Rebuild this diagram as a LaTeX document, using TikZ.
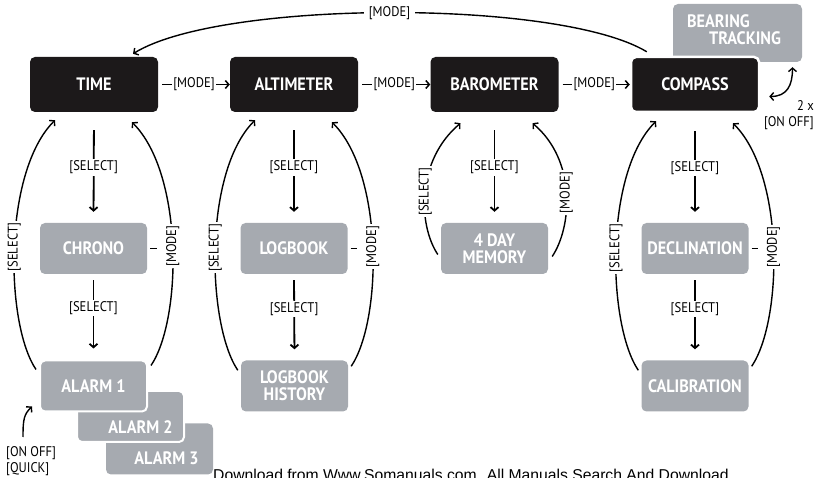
\documentclass[tikz,border=0pt]{standalone}
\usepackage{fontspec}
\setmainfont{PT Sans}[FakeStretch=0.9]
\newfontfamily\wmfont{Liberation Sans}
\usetikzlibrary{arrows.meta,calc}
\definecolor{boxblack}{RGB}{28,25,26}
\definecolor{boxgray}{RGB}{166,170,176}
\tikzset{
  mainbox/.style={
    fill=boxblack,
    text=white,
    rounded corners=5pt,
    minimum width=128pt,
    minimum height=55pt,
    inner sep=0pt,
    font=\fontsize{18}{17}\selectfont\bfseries
  },
  subbox/.style={
    fill=boxgray,
    text=white,
    rounded corners=5pt,
    minimum width=107pt,
    minimum height=51pt,
    inner sep=0pt,
    align=center,
    font=\fontsize{18}{17}\selectfont\bfseries
  },
  boxtext/.style={
    text=white,
    inner sep=0pt,
    font=\fontsize{18}{17}\selectfont\bfseries
  },
  keylabel/.style={
    fill=white,
    inner sep=1.5pt,
    font=\fontsize{14}{15}\selectfont
  },
  keytext/.style={
    inner sep=0pt,
    font=\fontsize{14}{16}\selectfont
  },
  >={Straight Barb[length=3.5pt,width=8pt]},
  selarrow/.style={line width=1.8pt, ->},
  curvearrow/.style={line width=1.4pt, ->}
}
\begin{document}
\begin{tikzpicture}[x=1pt,y=-1pt]
  \useasboundingbox (0,0) rectangle (815,478);
  % boxes
  \node[subbox, minimum width=129pt, minimum height=58pt] (bearing) at (737.5,33) {};
  \node[boxtext, align=left] (bearingtxt) at (734,30) {BEARING\\\hspace*{22pt}TRACKING};
  \node[mainbox] (time) at (94,84.5) {TIME};
  \node[mainbox] (alt) at (294,84.5) {ALTIMETER};
  \node[mainbox] (baro) at (494.5,84.5) {BAROMETER};
  \node[mainbox, draw=white, line width=2.5pt] (compass) at (695,84.5) {COMPASS};
  \node[subbox] (chrono) at (93.5,248.5) {CHRONO};
  \node[subbox] (logbook) at (294,248.5) {LOGBOOK};
  \node[subbox] (memory) at (494.5,248.5) {4 DAY\\MEMORY};
  \node[subbox] (decl) at (695,248.5) {DECLINATION};
  \node[subbox] (alarmIII) at (159.5,449) {};
  \node[boxtext] (alarmIIItxt) at ($(alarmIII)+(7,9.5)$) {ALARM 3};
  \node[subbox, draw=white, line width=2pt] (alarmII) at (130.5,416.5) {};
  \node[boxtext] (alarmIItxt) at ($(alarmII)+(10,10.5)$) {ALARM 2};
  \node[subbox, draw=white, line width=2pt] (alarmI) at (93.5,386) {ALARM 1};
  \node[subbox] (history) at (294.5,386) {LOGBOOK\\HISTORY};
  \node[subbox] (calib) at (695,386) {CALIBRATION};
  % mode row
  \foreach \a/\b in {time/alt, alt/baro, baro/compass}
    \draw[selarrow, line width=1.5pt, shorten <=4pt] (\a.east) -- node[keylabel, midway]{[MODE]} (\b.west);
  \draw[curvearrow] ($(compass.north west)+(17,-4)$) .. controls +(-88,-53) and +(87,-54) .. node[keylabel, inner xsep=5pt, midway]{[MODE]} ($(time.north)+(39,-3)$);
  % columns
  \foreach \a/\b/\c in {time/chrono/alarmI, alt/logbook/history, compass/decl/calib}{
    \draw[selarrow, shorten <=18pt, shorten >=11pt] (\a.south) -- node[keylabel, midway]{[SELECT]} (\b.north);
    \draw[selarrow, shorten <=6pt, shorten >=11pt] (\b.south) -- node[keylabel, pos=0.4]{[SELECT]} (\c.north);
    \draw[curvearrow] ($(\c.north west)+(-3,10)$) .. controls +(-31,-46) and +(-52,52) .. node[keylabel, rotate=90, midway]{[SELECT]} ($(\a.south)+(-39,8)$);
    \draw[curvearrow] ($(\c.north east)+(3,6)$) .. controls +(31,-46) and +(52,52) .. node[keylabel, rotate=90, midway] (\b-mode) {[MODE]} ($(\a.south)+(38,10)$);
    \draw[line width=1.8pt, shorten <=3pt, shorten >=7pt] (\b.east) -- (\b.east -| \b-mode.north);
  }
  \draw[selarrow, shorten <=18pt, shorten >=11pt] (baro.south) -- node[keylabel, midway]{[SELECT]} (memory.north);
  \draw[curvearrow] ($(memory.west)+(-3,6)$) .. controls +(-20,-30) and +(-44,37) .. node[keylabel, rotate=90, midway]{[SELECT]} ($(baro.south)+(-34,11)$);
  \draw[curvearrow] ($(memory.east)+(4,8)$) .. controls +(20,-30) and +(44,37) .. node[keylabel, rotate=90, midway]{[MODE]} ($(baro.south)+(38,11)$);
  % on/off keys
  \draw[curvearrow, <->] ($(compass.east)+(9,12)$) .. controls +(18,0) and +(0,18) .. ($(bearing.south)+(55,5)$);
  \node[keytext, anchor=north east, align=right] (twox) at (814,100) {2 x\\{[ON OFF]}};
  \node[keytext, anchor=north west, align=left] (quick) at (6,446) {[ON OFF]\\{[QUICK]}};
  \draw[curvearrow] ($(quick.north west)+(17,-9)$) .. controls +(0,-18) and +(-8,8) .. ($(alarmI.south west)+(-7,-6)$);
  \node[anchor=base west, inner sep=0pt, font=\wmfont\fontsize{15.7}{18}\selectfont] (watermark) at (213,481) {Download from Www.Somanuals.com. All Manuals Search And Download.};
\end{tikzpicture}
\end{document}
